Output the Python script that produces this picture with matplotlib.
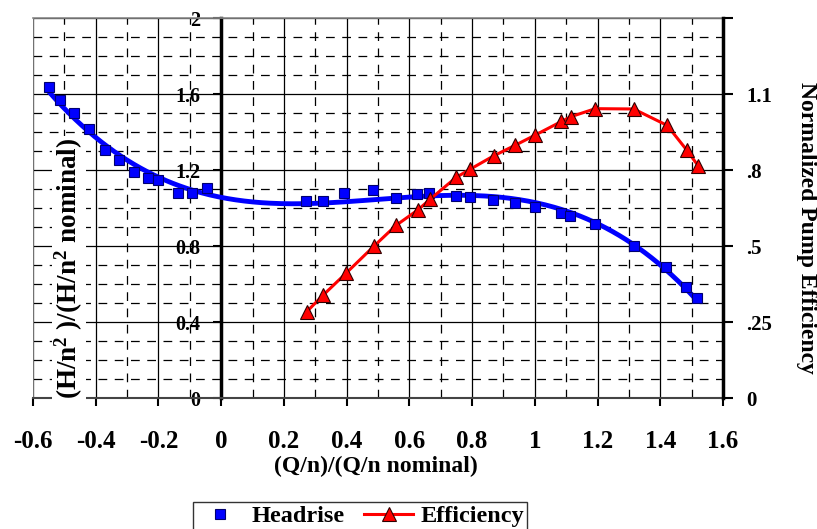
import numpy as np
import matplotlib
matplotlib.use("Agg")
import matplotlib.pyplot as plt
from matplotlib.lines import Line2D
from matplotlib.ticker import MultipleLocator

plt.rcParams['font.family'] = ['Liberation Serif', 'DejaVu Serif']
plt.rcParams['font.weight'] = 'bold'
plt.rcParams['mathtext.fontset'] = 'custom'
plt.rcParams['mathtext.rm'] = 'Liberation Serif:bold'
plt.rcParams['mathtext.it'] = 'Liberation Serif:bold'
plt.rcParams['mathtext.bf'] = 'Liberation Serif:bold'

# ---- data ----
head_q = [-0.548, -0.514, -0.469, -0.421, -0.372, -0.325, -0.277, -0.234, -0.200,
          -0.138, -0.092, -0.046, 0.270, 0.324, 0.393, 0.483, 0.557, 0.624, 0.663,
          0.749, 0.794, 0.867, 0.936, 0.999, 1.085, 1.113, 1.193, 1.315, 1.418,
          1.482, 1.517]
head_h = [1.637, 1.570, 1.503, 1.416, 1.307, 1.254, 1.189, 1.161, 1.149,
          1.082, 1.079, 1.105, 1.038, 1.038, 1.079, 1.093, 1.056, 1.074, 1.079,
          1.065, 1.061, 1.044, 1.026, 1.004, 0.974, 0.959, 0.917, 0.802, 0.693,
          0.587, 0.526]

eff_q = [0.273, 0.326, 0.398, 0.486, 0.557, 0.627, 0.667, 0.749, 0.794, 0.869,
         0.936, 0.999, 1.085, 1.116, 1.193, 1.315, 1.422, 1.485, 1.521]
eff_v = [0.285, 0.340, 0.411, 0.499, 0.568, 0.619, 0.655, 0.726, 0.753, 0.797,
         0.831, 0.864, 0.910, 0.926, 0.952, 0.951, 0.897, 0.815, 0.764]

x_ticks = [-0.6, -0.4, -0.2, 0, 0.2, 0.4, 0.6, 0.8, 1.0, 1.2, 1.4, 1.6]
x_labels = ['-0.6', '-0.4', '-0.2', '0', '0.2', '0.4', '0.6', '0.8', '1', '1.2', '1.4', '1.6']
y_ticks = [0, 0.4, 0.8, 1.2, 1.6, 2.0]
y_labels = ['0', '0.4', '0.8', '1.2', '1.6', '2']
y2_ticks = [0, 0.25, 0.5, 0.75, 1.0, 1.25]
y2_labels = ['0', '.25', '.5', '.8', '1.1', '']

W, H = 817, 529
fig = plt.figure(figsize=(W / 100, H / 100), dpi=100)
L, R, T, B = 33, 723, 18, 398.3
ax = fig.add_axes([L / W, 1 - B / H, (R - L) / W, (B - T) / H])
ax.set_xlim(-0.6, 1.6)
ax.set_ylim(0, 2)

# grid
ax.xaxis.set_major_locator(plt.FixedLocator(x_ticks))
ax.xaxis.set_minor_locator(MultipleLocator(0.1))
ax.yaxis.set_major_locator(plt.FixedLocator(y_ticks))
ax.yaxis.set_minor_locator(MultipleLocator(0.1))
ax.set_axisbelow(True)
ax.grid(which='major', color='black', lw=0.9, ls='-')
ax.grid(which='minor', color='black', lw=0.9, ls=(0, (7, 6)))
ax.tick_params(which='minor', length=0)

ax.set_xticklabels(x_labels)
ax.set_yticklabels(y_labels)
ax.tick_params(axis='x', which='major', direction='out', length=6, width=1.5,
               pad=17, labelsize=18)
ax.tick_params(axis='y', which='major', direction='out', length=6, width=1.5,
               pad=9, labelsize=14.5)

ax.spines['left'].set_position(('data', 0))
ax.spines['left'].set_linewidth(2.5)
ax.spines['left'].set_color('black')
ax.spines['right'].set_visible(False)
ax.spines['top'].set_color('#888888')
ax.spines['top'].set_linewidth(1.2)
ax.spines['bottom'].set_color('#444444')
ax.spines['bottom'].set_linewidth(1.5)
ax.axvline(-0.6, color='#888888', lw=1.2, zorder=1.5)

# headrise trendline (polynomial fit) and markers
coef = np.polyfit(head_q, head_h, 3)
xs = np.linspace(min(head_q), max(head_q), 300)
ax.plot(xs, np.polyval(coef, xs), color='#0000FF', lw=3.5, zorder=3)
ax.plot(head_q, head_h, ls='none', marker='s', ms=7.5, mfc='#0000FF',
        mec='#000070', mew=0.8, zorder=4)

# efficiency on secondary axis
ax2 = ax.twinx()
ax2.set_ylim(0, 1.25)
ax2.set_yticks(y2_ticks)
ax2.set_yticklabels(y2_labels)
ax2.tick_params(axis='y', direction='out', length=7, width=1.5, pad=10, labelsize=15)
for s in ['left', 'top', 'bottom']:
    ax2.spines[s].set_visible(False)
ax2.spines['right'].set_linewidth(2.5)
ax2.spines['right'].set_color('black')
ax2.plot(eff_q, eff_v, color='#FF0000', lw=2.2, marker='^', ms=10,
         mfc='#FF0000', mec='#300000', mew=0.8, zorder=5)

# labels
fig.text(376 / W, 1 - 466 / H, '(Q/n)/(Q/n nominal)', ha='center', va='center',
         fontsize=17, fontweight='bold')
fig.text(69 / W, 1 - 268 / H, r'(H/n$^{2}$ )/(H/n$^{2}$ nominal)', ha='center',
         va='center', rotation=90, fontsize=19.5, fontweight='bold',
         bbox=dict(facecolor='white', edgecolor='none', pad=1))
fig.text(806 / W, 1 - 228 / H, 'Normalized Pump Efficiency', ha='center',
         va='center', rotation=-90, fontsize=17, fontweight='bold')

handles = [Line2D([], [], ls='none', marker='s', ms=7.5, mfc='#0000FF',
                  mec='#000070', mew=0.8),
           Line2D([], [], color='#FF0000', lw=2.2, marker='^', ms=10,
                  mfc='#FF0000', mec='#300000', mew=0.8)]
leg = fig.legend(handles, ['Headrise', 'Efficiency'], loc='upper center',
                 bbox_to_anchor=(360 / W, 1 - 490 / H), ncol=2, fontsize=17.5,
                 frameon=True, fancybox=False, edgecolor='black',
                 handlelength=2.0, handletextpad=0.3, columnspacing=0.8,
                 borderpad=0.12)
leg.get_frame().set_linewidth(1.0)

fig.savefig('out.png', dpi=100)
